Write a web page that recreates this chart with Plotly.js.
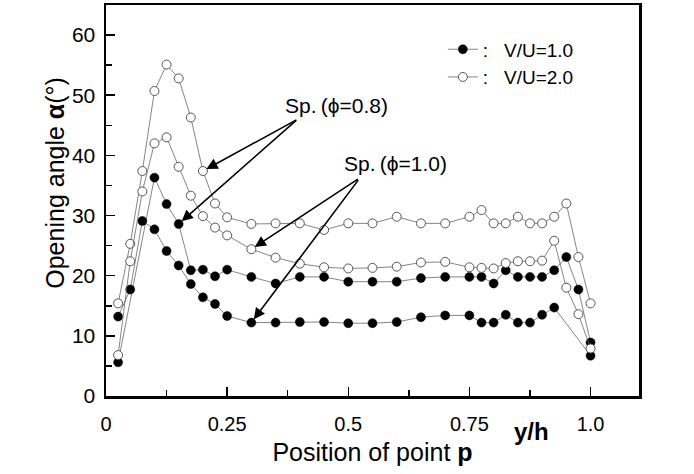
<!DOCTYPE html>
<html>
<head>
<meta charset="utf-8">
<script src="https://cdn.plot.ly/plotly-3.0.1.min.js"></script>
<style>html,body{margin:0;padding:0;background:#fff;}#chart{width:694px;height:474px;}</style>
</head>
<body>
<div id="chart"></div>
<script>
// Position of point p (y/h)
const positions = [0.025,0.05,0.075,0.1,0.125,0.15,0.175,0.2,0.225,0.25,
  0.3,0.35,0.4,0.45,0.5,0.55,0.6,0.65,0.7,
  0.75,0.775,0.8,0.825,0.85,0.875,0.9,0.925,0.95,0.975,1.0];
// V/U=2.0 (open), Sp.(phi=0.8)
const open_phi08 = [15.4,25.3,37.4,50.7,55.1,52.8,46.3,37.4,32.0,29.7,
  28.6,28.7,28.7,27.6,28.7,28.7,29.8,28.7,28.7,
  29.8,30.9,28.7,28.7,29.8,28.7,28.7,29.8,32.0,23.1,15.4];
// V/U=2.0 (open), Sp.(phi=1.0)
const open_phi10 = [6.8,22.4,34.0,42.0,43.0,38.1,33.3,29.9,28.0,26.7,
  24.4,23.0,22.0,21.4,21.2,21.3,21.5,22.2,22.3,
  21.4,21.3,21.2,22.1,22.4,22.4,22.5,25.8,18.0,13.6,7.9];
// V/U=1.0 (filled), Sp.(phi=0.8)
const filled_phi08 = [5.6,null,null,36.3,31.9,28.6,20.9,21.0,19.9,21.0,
  19.8,18.7,19.8,19.8,19.0,19.0,19.0,19.6,19.8,
  19.8,19.8,18.7,20.9,19.8,19.8,19.8,20.9,23.1,17.7,8.9];
// V/U=1.0 (filled), Sp.(phi=1.0)
const filled_phi10 = [13.2,17.7,29.1,27.7,24.1,21.7,18.6,16.4,15.3,13.3,
  12.2,12.2,12.3,12.3,12.1,12.1,12.3,13.1,13.4,
  13.4,12.2,12.2,13.5,12.2,12.2,13.5,14.7,null,null,6.7];

const xTickVals = [0,0.25,0.5,0.75,1.0];
const xTickText = ['0','0.25','0.5','0.75','1.0'];
const legendNames = [':   V/U=1.0', ':   V/U=2.0'];

const FONT = 'Liberation Sans, Arial, sans-serif';
const lineStyle = {color:'#666', width:0.8};
const filledMarker = {symbol:'circle', size:9, color:'#000', line:{color:'#000', width:0.5}};
const openMarker = {symbol:'circle', size:9, color:'#fff', line:{color:'#555', width:1}};

const traces = [
  {x:positions, y:filled_phi08, mode:'lines+markers', line:lineStyle, marker:filledMarker,
   connectgaps:true, name:legendNames[0], legendgroup:'vu1', showlegend:true},
  {x:positions, y:filled_phi10, mode:'lines+markers', line:lineStyle, marker:filledMarker,
   connectgaps:true, name:legendNames[0], legendgroup:'vu1', showlegend:false},
  {x:positions, y:open_phi08, mode:'lines+markers', line:lineStyle, marker:openMarker,
   connectgaps:true, name:legendNames[1], legendgroup:'vu2', showlegend:true},
  {x:positions, y:open_phi10, mode:'lines+markers', line:lineStyle, marker:openMarker,
   connectgaps:true, name:legendNames[1], legendgroup:'vu2', showlegend:false}
];

function arrow(xv, yv, ax, ay){
  return {x:xv, y:yv, xref:'x', yref:'y', text:'', showarrow:true,
    arrowhead:2, arrowsize:1.4, arrowwidth:1.6, arrowcolor:'#000',
    ax:ax, ay:ay, standoff:4};
}

const annotations = [
  {x:0.475, y:48.3, xref:'x', yref:'y', text:'Sp.\u2009(ϕ=0.8)', showarrow:false,
   font:{family:FONT, size:21, color:'#000'}},
  {x:0.597, y:38.6, xref:'x', yref:'y', text:'Sp.\u2009(ϕ=1.0)', showarrow:false,
   font:{family:FONT, size:21, color:'#000'}},
  arrow(positions[7], open_phi08[7], 95, -52),
  arrow(positions[5], filled_phi08[5], 119, -105),
  arrow(positions[10], open_phi10[10], 108, -71),
  arrow(positions[10], filled_phi10[10], 108, -144),
  {x:0.878, xref:'x', y:-0.092, yref:'paper', xanchor:'center', yanchor:'middle',
   text:'<b>y/h</b>', showarrow:false, font:{family:FONT, size:24, color:'#000'}},
  {x:-0.096, xref:'paper', y:0.545, yref:'paper', xanchor:'center', yanchor:'middle',
   textangle:-90, showarrow:false,
   text:'Opening angle <b>α</b>(°)', font:{family:FONT, size:25, color:'#000'}}
];

const layout = {
  width:694, height:474,
  margin:{l:106, r:55, t:5, b:78},
  paper_bgcolor:'#fff', plot_bgcolor:'#fff',
  font:{family:FONT, color:'#000'},
  showlegend:true,
  legend:{x:0.632, y:0.935, xanchor:'left', yanchor:'top', bgcolor:'rgba(0,0,0,0)',
    font:{family:FONT, size:19, color:'#000'}, tracegroupgap:0, itemwidth:30},
  xaxis:{range:[0,1.1], tickvals:xTickVals, ticktext:xTickText,
    ticks:'inside', ticklen:9, tickwidth:1.5, tickcolor:'#000',
    minor:{dtick:0.125, ticks:'inside', ticklen:6, tickwidth:1.5, tickcolor:'#000'},
    showline:true, linewidth:2.5, linecolor:'#000', mirror:true,
    showgrid:false, zeroline:false,
    tickfont:{family:FONT, size:20, color:'#000'}, ticklabelstandoff:8,
    title:{text:'Position of point <b>p</b>', font:{family:FONT, size:25, color:'#000'}, standoff:10}},
  yaxis:{range:[0,65], tick0:0, dtick:10,
    ticks:'inside', ticklen:9, tickwidth:1.5, tickcolor:'#000',
    minor:{dtick:5, ticks:'inside', ticklen:6, tickwidth:1.5, tickcolor:'#000'},
    showline:true, linewidth:2.5, linecolor:'#000', mirror:true,
    showgrid:false, zeroline:false,
    tickfont:{family:FONT, size:21, color:'#000'}, ticklabelstandoff:4},
  annotations:annotations
};

Plotly.newPlot('chart', traces, layout, {displayModeBar:false, staticPlot:true});
</script>
</body>
</html>
